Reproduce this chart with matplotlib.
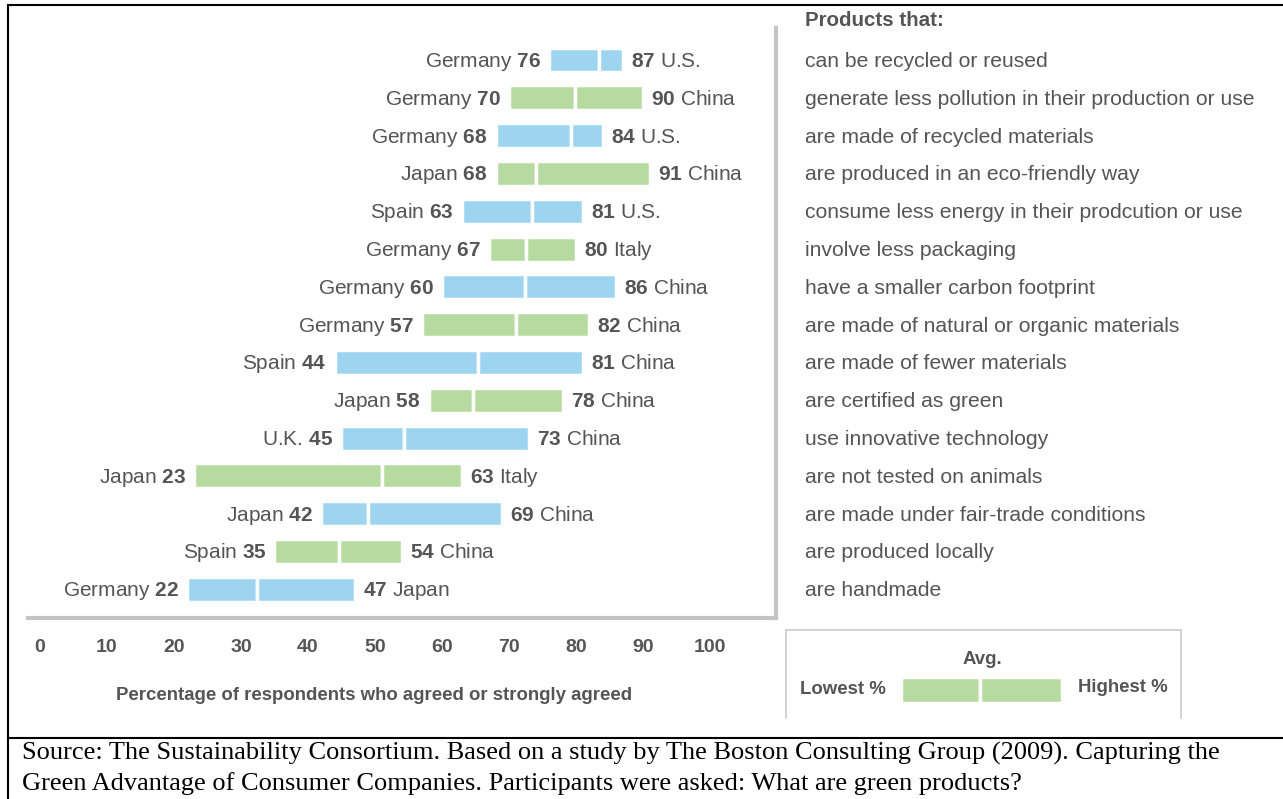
import matplotlib.pyplot as plt
from matplotlib import transforms
from matplotlib.lines import Line2D
from matplotlib.patches import Rectangle

plt.rcParams['font.family'] = ['Liberation Sans', 'DejaVu Sans']
plt.rcParams['mathtext.fontset'] = 'custom'
plt.rcParams['mathtext.rm'] = 'Liberation Sans'
plt.rcParams['mathtext.bf'] = 'Liberation Sans:bold'

# data
products = [
    'can be recycled or reused',
    'generate less pollution in their production or use',
    'are made of recycled materials',
    'are produced in an eco-friendly way',
    'consume less energy in their prodcution or use',
    'involve less packaging',
    'have a smaller carbon footprint',
    'are made of natural or organic materials',
    'are made of fewer materials',
    'are certified as green',
    'use innovative technology',
    'are not tested on animals',
    'are made under fair-trade conditions',
    'are produced locally',
    'are handmade',
]
low_country = ['Germany', 'Germany', 'Germany', 'Japan', 'Spain', 'Germany', 'Germany', 'Germany',
               'Spain', 'Japan', 'U.K.', 'Japan', 'Japan', 'Spain', 'Germany']
low_value = [76, 70, 68, 68, 63, 67, 60, 57, 44, 58, 45, 23, 42, 35, 22]
avg_value = [83.4, 79.8, 79.3, 74.0, 73.4, 72.6, 72.4, 71.1, 65.4, 64.7, 54.3, 51.0, 49.0, 44.7, 32.4]
high_value = [87, 90, 84, 91, 81, 80, 86, 82, 81, 78, 73, 63, 69, 54, 47]
high_country = ['U.S.', 'China', 'U.S.', 'China', 'U.S.', 'Italy', 'China', 'China',
                'China', 'China', 'China', 'Italy', 'China', 'China', 'Japan']
ticks = list(range(0, 101, 10))

BLUE = '#9DD4EF'
GREEN = '#B6DA9F'
TEXT = '#555555'
W, H = 1283, 799


def fx(px):
    return px / W


def fy(py):
    return 1 - py / H


fig = plt.figure(figsize=(W / 100, H / 100), dpi=100)
ax = fig.add_axes([fx(28), fy(618), fx(776 - 28), (618 - 28) / H])

for i in range(len(products)):
    c = BLUE if i % 2 == 0 else GREEN
    ax.barh(i, avg_value[i] - low_value[i], left=low_value[i], height=0.66,
            color=c, edgecolor='white', linewidth=2.5)
    ax.barh(i, high_value[i] - avg_value[i], left=avg_value[i], height=0.66,
            color=c, edgecolor='white', linewidth=2.5)
    ax.annotate(f'{low_country[i]} $\\mathbf{{{low_value[i]}}}$', xy=(low_value[i], i),
                xytext=(-8, -7), textcoords='offset pixels', ha='right', va='baseline',
                fontsize=15, color=TEXT)
    ax.annotate(f'$\\mathbf{{{high_value[i]}}}$ {high_country[i]}', xy=(high_value[i], i),
                xytext=(8, -7), textcoords='offset pixels', ha='left', va='baseline',
                fontsize=15, color=TEXT)

ax.set_xlim(-1.79, 109.85)
ax.set_ylim(14.76, -0.847)
ax.set_xticks(ticks)
ax.set_xticklabels([str(t) for t in ticks], fontweight='bold', fontsize=14, color=TEXT)
ax.set_yticks([])
ax.tick_params(axis='x', length=0, pad=15)
for s in ['left', 'top']:
    ax.spines[s].set_visible(False)
for s in ['right', 'bottom']:
    ax.spines[s].set_color('#C4C4C4')
    ax.spines[s].set_linewidth(3)

fig.text(fx(374), fy(695), 'Percentage of respondents who agreed or strongly agreed',
         ha='center', va='center', fontsize=13.4, fontweight='bold', color=TEXT)

# product descriptions on the right
trans = transforms.blended_transform_factory(fig.transFigure, ax.transData)
for i, p in enumerate(products):
    ax.annotate(p, xy=(fx(805), i), xycoords=trans, xytext=(0, -7), textcoords='offset pixels',
                ha='left', va='baseline', fontsize=15.2, color=TEXT, annotation_clip=False)
fig.text(fx(805), fy(20), 'Products that:', ha='left', va='center', fontsize=14.8,
         fontweight='bold', color=TEXT)

# legend box
for xs, ys in [([786, 786], [630, 718]), ([786, 1181], [630, 630]), ([1181, 1181], [630, 718])]:
    fig.add_artist(Line2D([fx(x) for x in xs], [fy(y) for y in ys], color='#CCCCCC', lw=1.2,
                          transform=fig.transFigure))
fig.add_artist(Rectangle((fx(901), fy(703)), fx(980 - 901), (703 - 677) / H, transform=fig.transFigure,
                         facecolor=GREEN, edgecolor='white', lw=2.5))
fig.add_artist(Rectangle((fx(980), fy(703)), fx(1062 - 980), (703 - 677) / H, transform=fig.transFigure,
                         facecolor=GREEN, edgecolor='white', lw=2.5))
fig.text(fx(982), fy(659), 'Avg.', ha='center', va='center', fontsize=13.4, fontweight='bold', color=TEXT)
fig.text(fx(886), fy(690), 'Lowest %', ha='right', va='center', fontsize=13.4, fontweight='bold', color=TEXT)
fig.text(fx(1078), fy(687), 'Highest %', ha='left', va='center', fontsize=13.4, fontweight='bold', color=TEXT)

# frame and caption
fig.add_artist(Line2D([fx(8), 1], [fy(5), fy(5)], color='black', lw=1.5, transform=fig.transFigure))
fig.add_artist(Line2D([fx(8), fx(8)], [fy(5), 0], color='black', lw=1.5, transform=fig.transFigure))
fig.add_artist(Line2D([fx(8), 1], [fy(738), fy(738)], color='black', lw=1.5, transform=fig.transFigure))
fig.text(fx(22), fy(753), 'Source: The Sustainability Consortium. Based on a study by The Boston Consulting Group (2009). Capturing the',
         ha='left', va='center', fontsize=19, family='Liberation Serif', color='black')
fig.text(fx(22), fy(784), 'Green Advantage of Consumer Companies. Participants were asked: What are green products?',
         ha='left', va='center', fontsize=19, family='Liberation Serif', color='black')

fig.savefig('out.png', dpi=100)
